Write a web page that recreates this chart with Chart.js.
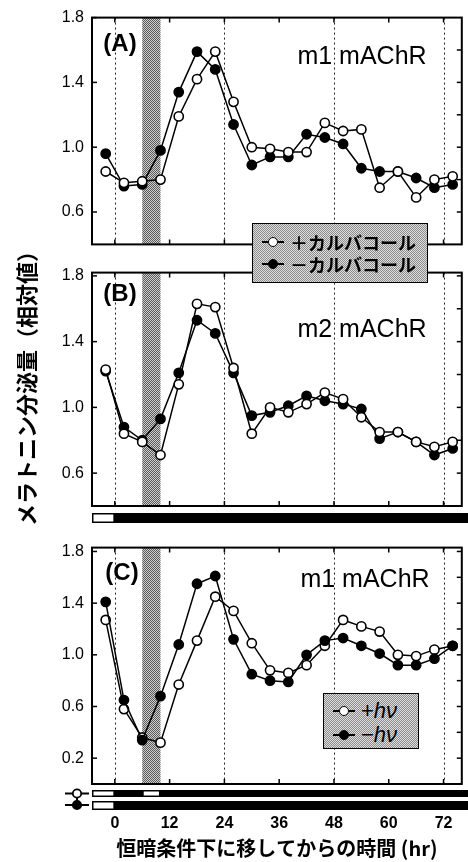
<!DOCTYPE html>
<html><head><meta charset="utf-8">
<script src="https://cdn.jsdelivr.net/npm/chart.js@4.4.0/dist/chart.umd.min.js"></script>
<style>
html,body{margin:0;padding:0;background:#fff;}
#wrap{position:relative;width:468px;height:862px;overflow:hidden;background:#fff;}
canvas{position:absolute;left:0;}
.t{position:absolute;transform:translate(-50%,-50%);white-space:nowrap;font-family:"Liberation Sans",Arial,sans-serif;color:#000;line-height:1;z-index:5;}
.pl{font-weight:bold;font-size:24px;}
.rc{font-size:25px;}
.leg{position:absolute;border:1.5px solid #000;background-color:#b5b5b5;background-image:repeating-conic-gradient(#8c8c8c 0 25%, #dedede 0 50%);background-size:2px 2px;box-sizing:border-box;z-index:6;}
.row{position:absolute;left:0;right:0;height:20px;display:flex;align-items:center;}
.sym{position:relative;width:22px;height:12px;margin-right:6px;flex:none;}
.sym .ln{position:absolute;left:0;right:0;top:5px;height:2px;background:#000;}
.sym .dot{position:absolute;left:6px;top:1px;width:10px;height:10px;border-radius:50%;box-sizing:border-box;border:1.8px solid #000;}
.jp{font-family:"Noto Sans CJK JP",sans-serif;font-weight:bold;font-size:18px;line-height:1;}
.hv{font-family:"Liberation Sans",Arial,sans-serif;font-size:22px;line-height:1;}
#ytitle{position:absolute;left:25px;top:383px;transform:translate(-50%,-50%) rotate(-90deg);font-family:"Noto Sans CJK JP",sans-serif;font-weight:bold;font-size:22px;white-space:nowrap;line-height:1;}
</style></head>
<body>
<div id="wrap">
<canvas id="cA" width="468" height="262" style="top:0px"></canvas>
<canvas id="cB" width="468" height="275" style="top:255px"></canvas>
<canvas id="cC" width="468" height="332" style="top:530px"></canvas>

<div class="t pl" style="left:120px;top:43px">(A)</div>
<div class="t rc" style="left:362px;top:55px">m1 mAChR</div>
<div class="t pl" style="left:120px;top:293px">(B)</div>
<div class="t rc" style="left:362px;top:328px">m2 mAChR</div>
<div class="t pl" style="left:122px;top:572px">(C)</div>
<div class="t rc" style="left:365px;top:578px">m1 mAChR</div>

<div class="leg" style="left:252px;top:223px;width:176px;height:60px">
  <div class="row" style="top:8px;padding-left:9px"><div class="sym"><div class="ln"></div><div class="dot" style="background:#fff"></div></div><span class="jp">＋カルバコール</span></div>
  <div class="row" style="top:30px;padding-left:9px"><div class="sym"><div class="ln"></div><div class="dot" style="background:#000"></div></div><span class="jp">－カルバコール</span></div>
</div>
<div class="leg" style="left:323px;top:693px;width:96px;height:56px">
  <div class="row" style="top:7px;padding-left:9px"><div class="sym"><div class="ln"></div><div class="dot" style="background:#fff"></div></div><span class="hv">+<i>hν</i></span></div>
  <div class="row" style="top:31px;padding-left:9px"><div class="sym"><div class="ln"></div><div class="dot" style="background:#000"></div></div><span class="hv">−<i>hν</i></span></div>
</div>
<div id="ytitle">メラトニン分泌量（相対値）</div>
</div>

<script>
// ---- data ----
const hours = [-2, 2, 6, 10, 14, 18, 22, 26, 30, 34, 38, 42, 46, 50, 54, 58, 62, 66, 70, 74];
const aPlusCarbachol  = [0.85, 0.78, 0.79, 0.80, 1.19, 1.42, 1.59, 1.28, 1.00, 0.99, 0.97, 0.97, 1.15, 1.10, 1.11, 0.75, 0.85, 0.69, 0.80, 0.82];
const aMinusCarbachol = [0.96, 0.76, 0.77, 0.98, 1.34, 1.59, 1.48, 1.14, 0.89, 0.94, 0.94, 1.08, 1.06, 1.02, 0.87, 0.85, 0.85, 0.81, 0.75, 0.77];
const bPlusCarbachol  = [1.23, 0.84, 0.79, 0.71, 1.14, 1.63, 1.61, 1.24, 0.84, 1.00, 0.97, 1.02, 1.09, 1.05, 0.94, 0.85, 0.85, 0.79, 0.76, 0.79];
const bMinusCarbachol = [1.22, 0.88, 0.80, 0.93, 1.21, 1.53, 1.45, 1.21, 0.95, 0.97, 1.01, 1.07, 1.04, 1.02, 0.99, 0.81, 0.85, 0.79, 0.71, 0.75];
const cPlusLight  = [1.27, 0.58, 0.36, 0.32, 0.77, 1.11, 1.45, 1.34, 1.09, 0.88, 0.86, 0.92, 1.07, 1.27, 1.22, 1.18, 1.00, 0.99, 1.04, 1.07];
const cMinusLight = [1.41, 0.65, 0.34, 0.68, 1.08, 1.55, 1.61, 1.12, 0.85, 0.80, 0.79, 1.00, 1.11, 1.13, 1.07, 1.01, 0.92, 0.92, 0.97, 1.07];
const xTickLabels = [0, 12, 24, 36, 48, 60, 72];
const dottedHours = [0, 24, 48, 72];
const yTicksAB = [0.6, 1.0, 1.4, 1.8];
const yTicksC = [0.2, 0.6, 1.0, 1.4, 1.8];
const stimulusHours = [6, 10];
const lightB = [[-5, 0]];
const lightCplus = [[-5, 0], [6, 10]];
const lightCminus = [[-5, 0]];
const xTitle = '恒暗条件下に移してからの時間 (hr)';

// stipple pattern for the stimulus band
function makePattern(c1, c2){
  const p = document.createElement('canvas'); p.width = 2; p.height = 2;
  const g = p.getContext('2d');
  g.fillStyle = c2; g.fillRect(0,0,2,2);
  g.fillStyle = c1; g.fillRect(0,0,1,1); g.fillRect(1,1,1,1);
  return g.createPattern(p, 'repeat');
}
const bandPattern = makePattern('#5a5a5a', '#cfcfcf');

const decor = {
  id: 'decor',
  beforeDatasetsDraw(chart, args, o){
    const {ctx, chartArea:a, scales:{x, y}} = chart;
    ctx.save();
    const bx0 = x.getPixelForValue(stimulusHours[0]), bx1 = x.getPixelForValue(stimulusHours[1]);
    ctx.fillStyle = bandPattern;
    ctx.fillRect(bx0, a.top, bx1 - bx0, a.bottom - a.top);
    ctx.strokeStyle = '#222'; ctx.lineWidth = 1; ctx.setLineDash([2, 3]);
    dottedHours.forEach(h => {
      const px = Math.round(x.getPixelForValue(h)) + 0.5;
      ctx.beginPath(); ctx.moveTo(px, a.top); ctx.lineTo(px, a.bottom); ctx.stroke();
    });
    ctx.setLineDash([]);
    ctx.strokeStyle = '#000'; ctx.lineWidth = 1.5;
    xTickLabels.forEach(h => {
      const px = x.getPixelForValue(h);
      ctx.beginPath(); ctx.moveTo(px, a.top); ctx.lineTo(px, a.top + 5);
      ctx.moveTo(px, a.bottom); ctx.lineTo(px, a.bottom - 5); ctx.stroke();
    });
    o.yTicks.forEach(v => {
      const py = y.getPixelForValue(v);
      ctx.beginPath(); ctx.moveTo(a.left, py); ctx.lineTo(a.left + 5, py); ctx.stroke();
    });
    for (let v = y.min; v <= y.max + 1e-9; v += 0.2) {
      const py = y.getPixelForValue(v);
      if (py <= a.top + 2 || py >= a.bottom - 2) continue;
      ctx.beginPath(); ctx.moveTo(a.right, py); ctx.lineTo(a.right - 5, py); ctx.stroke();
    }
    ctx.lineWidth = 2;
    ctx.strokeRect(a.left, a.top, a.right - a.left, a.bottom - a.top);
    ctx.restore();
  },
  afterDraw(chart, args, o){
    const {ctx, chartArea:a, scales:{x}} = chart;
    ctx.save();
    (o.bars || []).forEach(b => {
      const y0 = a.bottom + b.off[0], y1 = a.bottom + b.off[1];
      ctx.fillStyle = '#000';
      ctx.fillRect(a.left, y0, chart.width - a.left, y1 - y0);
      b.light.forEach(([h0, h1]) => {
        const px0 = Math.max(a.left, x.getPixelForValue(h0)), px1 = x.getPixelForValue(h1);
        ctx.fillStyle = '#fff';
        ctx.fillRect(px0 + 1.5, y0 + 1.5, px1 - px0 - 3, y1 - y0 - 3);
      });
    });
    if (o.symbols) {
      const sx = 77;
      const yO = a.bottom + 9.5, yF = a.bottom + 21;
      ctx.strokeStyle = '#000'; ctx.lineWidth = 2;
      ctx.beginPath(); ctx.moveTo(sx, yO); ctx.lineTo(sx, yF); ctx.stroke();
      [[yO, '#fff'], [yF, '#000']].forEach(([yy, fc]) => {
        ctx.beginPath(); ctx.moveTo(65, yy); ctx.lineTo(89, yy); ctx.stroke();
        ctx.beginPath(); ctx.arc(sx, yy, 4.2, 0, Math.PI * 2);
        ctx.fillStyle = fc; ctx.fill(); ctx.lineWidth = 1.8; ctx.stroke(); ctx.lineWidth = 2;
      });
    }
    ctx.restore();
  }
};

function ds(label, vals, fill, order){
  return {
    label, data: hours.map((h, i) => ({x: h, y: vals[i]})),
    borderColor: '#000', borderWidth: 1.5, pointRadius: 4.6, pointHoverRadius: 4.6,
    pointBackgroundColor: fill, pointBorderColor: '#000', pointBorderWidth: 1.6,
    showLine: true, fill: false, tension: 0, order
  };
}

function makePanel(id, cfg){
  const showX = !!cfg.showX;
  return new Chart(document.getElementById(id), {
    type: 'scatter',
    data: { datasets: cfg.datasets },
    options: {
      responsive: false, animation: false, events: [],
      layout: { padding: { top: cfg.padTop, bottom: cfg.padBottom, left: 0, right: 2 } },
      plugins: { legend: { display: false }, tooltip: { enabled: false }, decor: { yTicks: cfg.yTicks, bars: cfg.bars, symbols: cfg.symbols } },
      scales: {
        x: {
          type: 'linear', min: -5, max: 76.0, display: showX,
          afterBuildTicks: s => { s.ticks = xTickLabels.map(v => ({ value: v })); },
          afterFit: s => { if (showX) { s.height = 78; s.paddingLeft = 0; s.paddingRight = 0; } },
          grid: { display: false, drawTicks: true, tickLength: 28 }, border: { display: false },
          ticks: { autoSkip: false, maxRotation: 0, padding: 2, color: '#000', font: { family: '"Liberation Sans", Arial, sans-serif', size: 16, weight: 'bold' } },
          title: { display: showX, text: xTitle, color: '#000', padding: { top: 0, bottom: 2 }, font: { family: '"Noto Sans CJK JP", sans-serif', size: 20, weight: 'bold' } }
        },
        y: {
          min: cfg.yMin, max: cfg.yMax,
          afterBuildTicks: s => { s.ticks = cfg.yTicks.map(v => ({ value: v })); },
          afterFit: s => { s.width = 92; },
          grid: { display: false, drawTicks: false }, border: { display: false },
          ticks: { autoSkip: false, padding: 8, color: '#000', callback: v => v.toFixed(1), font: { family: '"Liberation Sans", Arial, sans-serif', size: 16 } }
        }
      }
    },
    plugins: [decor]
  });
}

makePanel('cA', { padTop: 14, padBottom: 11, yMin: 0.4, yMax: 1.8, yTicks: yTicksAB,
  datasets: [ds('＋カルバコール', aPlusCarbachol, '#fff', 0), ds('－カルバコール', aMinusCarbachol, '#000', 1)] });
makePanel('cB', { padTop: 10, padBottom: 24, yMin: 0.4, yMax: 1.82, yTicks: yTicksAB,
  bars: [{ off: [7, 17], light: lightB }],
  datasets: [ds('＋カルバコール', bPlusCarbachol, '#fff', 0), ds('－カルバコール', bMinusCarbachol, '#000', 1)] });
makePanel('cC', { padTop: 13, padBottom: 0, yMin: 0, yMax: 1.83, yTicks: yTicksC, showX: true, symbols: true,
  bars: [{ off: [6, 13], light: lightCplus }, { off: [17, 26], light: lightCminus }],
  datasets: [ds('+hν', cPlusLight, '#fff', 1), ds('−hν', cMinusLight, '#000', 0)] });
</script>
</body></html>
